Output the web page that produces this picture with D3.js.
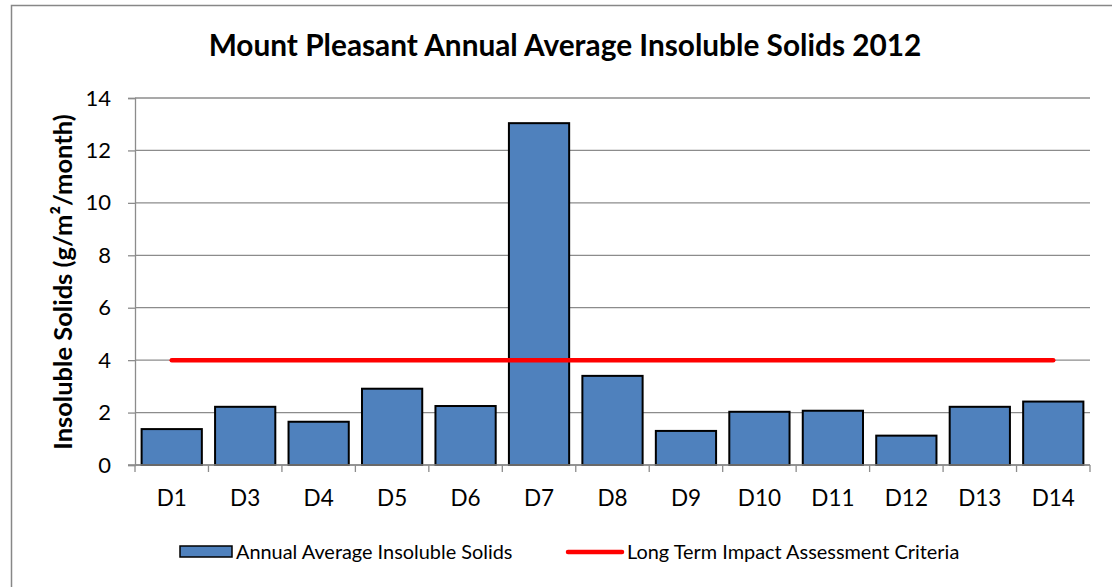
<!DOCTYPE html>
<html>
<head>
<meta charset="utf-8">
<script src="https://cdn.jsdelivr.net/npm/d3@7"></script>
<style>
body { margin: 0; background: #fff; }
svg { display: block; font-family: Lato, "Open Sans", sans-serif; }
</style>
</head>
<body>
<div id="chart"></div>
<script>
// chart data
var sites = ['D1','D3','D4','D5','D6','D7','D8','D9','D10','D11','D12','D13','D14'];
var insolubleSolids = [1.37, 2.22, 1.65, 2.91, 2.25, 13.04, 3.40, 1.30, 2.03, 2.07, 1.12, 2.22, 2.42];
var criteria = [4,4,4,4,4,4,4,4,4,4,4,4,4];
var yTicks = [0, 2, 4, 6, 8, 10, 12, 14];
var seriesNames = ['Annual Average Insoluble Solids', 'Long Term Impact Assessment Criteria'];

var W = 1112, H = 587;
var m = {left: 135, right: 22, top: 98, bottom: 122};

var svg = d3.select('#chart').append('svg')
	.attr('width', W)
	.attr('height', H);

// outer chart border
svg.append('rect')
	.attr('x', 11.5).attr('y', 5.5)
	.attr('width', W + 10).attr('height', H + 10)
	.attr('fill', 'none')
	.attr('stroke', '#878787')
	.attr('stroke-width', 1.5);

var x = d3.scaleBand()
	.domain(sites)
	.range([m.left, W - m.right])
	.paddingInner(0.18)
	.paddingOuter(0.09);

var y = d3.scaleLinear()
	.domain([0, 14])
	.range([H - m.bottom, m.top]);

// gridlines
svg.append('g')
	.selectAll('line')
	.data(yTicks)
	.enter().append('line')
	.attr('x1', m.left).attr('x2', W - m.right)
	.attr('y1', function(d){ return y(d) }).attr('y2', function(d){ return y(d) })
	.attr('stroke', '#8c8c8c')
	.attr('stroke-width', 1.3);

// y axis
var yAxis = svg.append('g')
	.attr('transform', 'translate(' + m.left + ',0)')
	.call(d3.axisLeft(y).tickValues(yTicks).tickSize(7).tickPadding(17));
yAxis.attr('font-family', null).attr('font-size', 22);
yAxis.select('.domain').attr('stroke', '#8c8c8c').attr('stroke-width', 1.3);
yAxis.selectAll('.tick line').attr('stroke', '#8c8c8c').attr('stroke-width', 1.3);
yAxis.selectAll('.tick text').attr('fill', '#000');

// bars
svg.append('g')
	.selectAll('rect')
	.data(insolubleSolids)
	.enter().append('rect')
	.attr('x', function(d, i){ return x(sites[i]) })
	.attr('y', function(d){ return y(d) })
	.attr('width', x.bandwidth())
	.attr('height', function(d){ return y(0) - y(d) })
	.attr('fill', '#4f81bd')
	.attr('stroke', '#000')
	.attr('stroke-width', 2);

// x axis
var xAxis = svg.append('g')
	.attr('transform', 'translate(0,' + y(0) + ')');
xAxis.append('line')
	.attr('x1', m.left - 7).attr('x2', W - m.right)
	.attr('stroke', '#8c8c8c').attr('stroke-width', 1.3);
var edges = d3.range(sites.length + 1).map(function(i){ return m.left + (W - m.left - m.right) * i / sites.length });
xAxis.selectAll('.xt')
	.data(edges)
	.enter().append('line')
	.attr('x1', function(d){ return d }).attr('x2', function(d){ return d })
	.attr('y1', 0).attr('y2', 7)
	.attr('stroke', '#8c8c8c').attr('stroke-width', 1.3);
xAxis.selectAll('text')
	.data(sites)
	.enter().append('text')
	.attr('x', function(d){ return x(d) + x.bandwidth() / 2 })
	.attr('y', 41)
	.attr('text-anchor', 'middle')
	.attr('font-size', 22.5)
	.text(function(d){ return d });

// criteria line
var line = d3.line()
	.x(function(d, i){ return x(sites[i]) + x.bandwidth() / 2 })
	.y(function(d){ return y(d) });
svg.append('path')
	.datum(criteria)
	.attr('d', line)
	.attr('fill', 'none')
	.attr('stroke', '#ff0000')
	.attr('stroke-width', 4.5)
	.attr('stroke-linecap', 'round');

// title
svg.append('text')
	.attr('x', 565).attr('y', 56)
	.attr('text-anchor', 'middle')
	.attr('font-size', 29.8)
	.attr('font-weight', 'bold')
	.text('Mount Pleasant Annual Average Insoluble Solids 2012');

// y axis title
svg.append('text')
	.attr('transform', 'translate(72,282) rotate(-90)')
	.attr('text-anchor', 'middle')
	.attr('font-size', 25.5)
	.attr('font-weight', 'bold')
	.text('Insoluble Solids (g/m²/month)');

// legend
var lg = svg.append('g').attr('transform', 'translate(0,552)');
lg.append('rect')
	.attr('x', 180).attr('y', -6)
	.attr('width', 52).attr('height', 11)
	.attr('fill', '#4f81bd').attr('stroke', '#000').attr('stroke-width', 1.5);
lg.append('text')
	.attr('x', 236).attr('y', 7)
	.attr('font-size', 19.9)
	.text(seriesNames[0]);
lg.append('line')
	.attr('x1', 568).attr('x2', 622)
	.attr('stroke', '#ff0000').attr('stroke-width', 4.5).attr('stroke-linecap', 'round');
lg.append('text')
	.attr('x', 627).attr('y', 7)
	.attr('font-size', 19.9)
	.text(seriesNames[1]);
</script>
</body>
</html>
